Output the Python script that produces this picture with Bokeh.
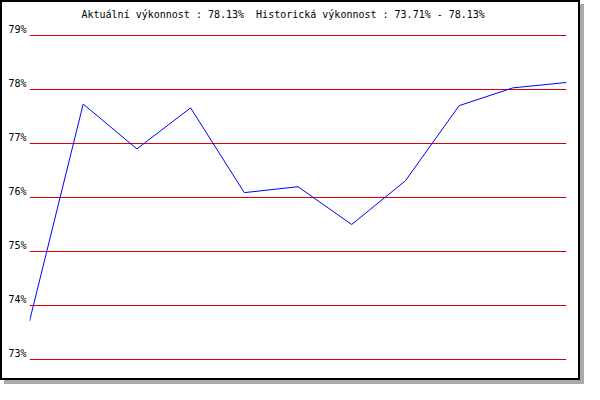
from bokeh.plotting import figure
from bokeh.models import Range1d, FixedTicker, PrintfTickFormatter, Title, LinearAxis
from bokeh.embed import file_html
from bokeh.resources import INLINE

# data
points = list(range(11))
values = [73.71, 77.73, 76.90, 77.66, 76.09, 76.20, 75.50, 76.31, 77.70, 78.03, 78.13]
y_ticks = [73, 74, 75, 76, 77, 78, 79]
title_text = "Aktuální výkonnost : 78.13%\u00a0 Historická výkonnost : 73.71% - 78.13%"

FONT = "DejaVu Sans Mono"
# frame: canvas y 20 .. 360, 79% line at canvas 33, 73% at canvas 357 (54 px per %)
Y1 = 79 + 13 / 54
Y0 = 73 - 3 / 54
LABEL_SHIFT = 6 / 54  # labels sit just above their grid line

p = figure(width=580, height=380, output_backend="svg", toolbar_location=None,
           x_range=Range1d(0, 10), y_range=Range1d(Y0, Y1),
           y_axis_location=None,
           min_border_left=27, min_border_right=16, min_border_top=20, min_border_bottom=20)

p.styles = {"border": "2px solid black", "box-shadow": "4px 4px 0 0 #aaaaaa"}
p.background_fill_color = "white"
p.border_fill_color = "white"
p.outline_line_color = None

t = Title(text=title_text, align="left", offset=52, standoff=5, text_font=FONT,
          text_font_size="10px", text_font_style="normal", text_color="black")
p.add_layout(t, "above")

p.xaxis.visible = False
p.xgrid.visible = False

p.extra_y_ranges = {"labels": Range1d(Y0 - LABEL_SHIFT, Y1 - LABEL_SHIFT)}
ya = LinearAxis(y_range_name="labels")
ya.ticker = FixedTicker(ticks=y_ticks)
ya.formatter = PrintfTickFormatter(format="%d%%")
ya.axis_line_color = None
ya.major_tick_line_color = None
ya.minor_tick_line_color = None
ya.major_tick_in = 0
ya.major_tick_out = 0
ya.major_label_standoff = 3
ya.major_label_text_font = FONT
ya.major_label_text_font_size = "10px"
ya.major_label_text_color = "black"
p.add_layout(ya, "left")

p.ygrid.ticker = FixedTicker(ticks=y_ticks)
p.ygrid.grid_line_color = "#dd0000"
p.ygrid.grid_line_width = 1

p.line(points, values, line_color="#0000ff", line_width=1)

open("out.html", "w").write(file_html(p, INLINE))
